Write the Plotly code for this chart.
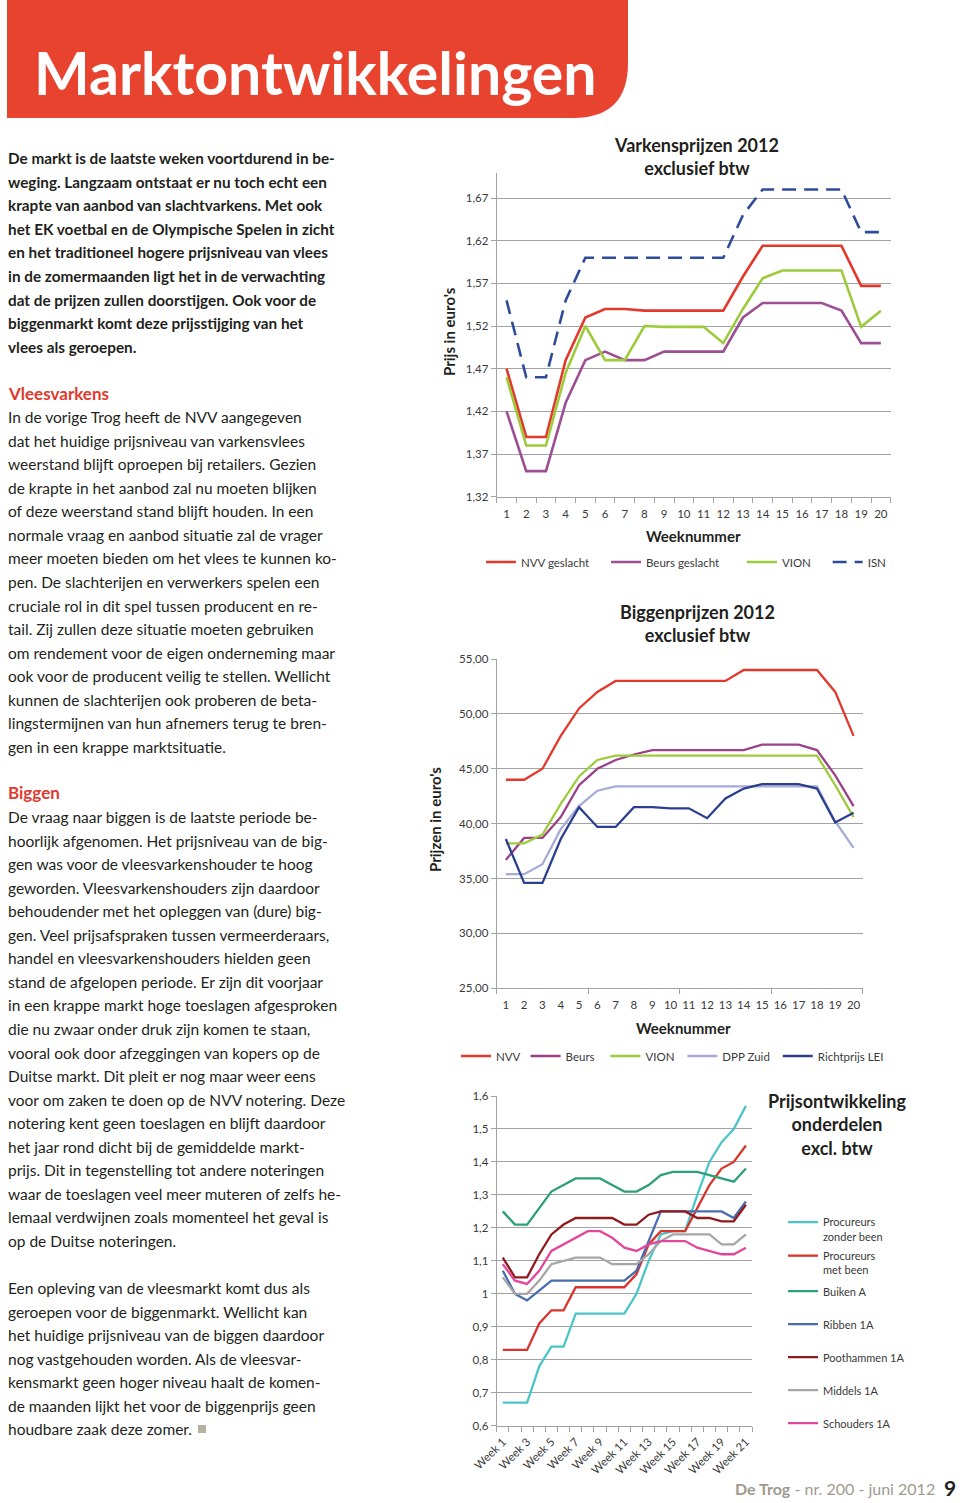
import plotly.graph_objects as go

W, H = 960, 1503
def X(px): return px / W
def Y(py): return 1 - py / H

# ---------------- data ----------------
weeks = list(range(1, 21))
nvv_geslacht = [1.47, 1.39, 1.39, 1.48, 1.53, 1.54, 1.54, 1.538, 1.538, 1.538, 1.538, 1.538, 1.578, 1.614, 1.614, 1.614, 1.614, 1.614, 1.567, 1.567]
beurs_geslacht = [1.42, 1.35, 1.35, 1.43, 1.48, 1.49, 1.48, 1.48, 1.49, 1.49, 1.49, 1.49, 1.53, 1.547, 1.547, 1.547, 1.547, 1.538, 1.50, 1.50]
vion_vark = [1.46, 1.38, 1.38, 1.465, 1.52, 1.48, 1.48, 1.52, 1.519, 1.519, 1.519, 1.50, 1.54, 1.576, 1.585, 1.585, 1.585, 1.585, 1.519, 1.538]
isn = [1.55, 1.46, 1.46, 1.55, 1.60, 1.60, 1.60, 1.60, 1.60, 1.60, 1.60, 1.60, 1.65, 1.68, 1.68, 1.68, 1.68, 1.68, 1.63, 1.63]
vark_ticks = [1.32, 1.37, 1.42, 1.47, 1.52, 1.57, 1.62, 1.67]

nvv_big = [44.0, 44.0, 45.0, 48.0, 50.5, 52.0, 53.0, 53.0, 53.0, 53.0, 53.0, 53.0, 53.0, 54.0, 54.0, 54.0, 54.0, 54.0, 52.0, 48.0]
beurs_big = [36.7, 38.7, 38.7, 40.6, 43.5, 45.0, 45.8, 46.3, 46.7, 46.7, 46.7, 46.7, 46.7, 46.7, 47.2, 47.2, 47.2, 46.7, 44.4, 41.6]
vion_big = [38.2, 38.2, 39.0, 41.8, 44.3, 45.8, 46.2, 46.2, 46.2, 46.2, 46.2, 46.2, 46.2, 46.2, 46.2, 46.2, 46.2, 46.2, 43.5, 40.6]
dpp_zuid = [35.4, 35.4, 36.3, 39.5, 41.6, 43.0, 43.4, 43.4, 43.4, 43.4, 43.4, 43.4, 43.4, 43.4, 43.4, 43.4, 43.4, 43.4, 40.2, 37.8]
richtprijs_lei = [38.6, 34.6, 34.6, 38.6, 41.5, 39.7, 39.7, 41.5, 41.5, 41.4, 41.4, 40.5, 42.3, 43.2, 43.6, 43.6, 43.6, 43.2, 40.1, 41.0]
big_ticks = [25, 30, 35, 40, 45, 50, 55]

weeks3 = list(range(1, 22))
week_labels = ["Week %d" % w for w in weeks3]
proc_zonder = [0.67, 0.67, 0.67, 0.78, 0.84, 0.84, 0.94, 0.94, 0.94, 0.94, 0.94, 1.00, 1.10, 1.18, 1.19, 1.19, 1.30, 1.40, 1.46, 1.50, 1.57]
proc_met = [0.83, 0.83, 0.83, 0.91, 0.95, 0.95, 1.02, 1.02, 1.02, 1.02, 1.02, 1.06, 1.15, 1.19, 1.19, 1.19, 1.26, 1.33, 1.38, 1.40, 1.45]
buiken = [1.25, 1.21, 1.21, 1.26, 1.31, 1.33, 1.35, 1.35, 1.35, 1.33, 1.31, 1.31, 1.33, 1.36, 1.37, 1.37, 1.37, 1.36, 1.35, 1.34, 1.38]
ribben = [1.07, 1.00, 0.98, 1.01, 1.04, 1.04, 1.04, 1.04, 1.04, 1.04, 1.04, 1.07, 1.16, 1.25, 1.25, 1.25, 1.25, 1.25, 1.25, 1.23, 1.28]
poothammen = [1.11, 1.05, 1.05, 1.12, 1.18, 1.21, 1.23, 1.23, 1.23, 1.23, 1.21, 1.21, 1.24, 1.25, 1.25, 1.25, 1.23, 1.23, 1.22, 1.22, 1.27]
middels = [1.05, 1.00, 1.00, 1.04, 1.09, 1.10, 1.11, 1.11, 1.11, 1.09, 1.09, 1.09, 1.12, 1.16, 1.18, 1.18, 1.18, 1.18, 1.15, 1.15, 1.18]
schouders = [1.09, 1.04, 1.03, 1.07, 1.13, 1.15, 1.17, 1.19, 1.19, 1.17, 1.14, 1.13, 1.15, 1.16, 1.16, 1.16, 1.14, 1.13, 1.12, 1.12, 1.14]
ond_ticks = [0.6, 0.7, 0.8, 0.9, 1.0, 1.1, 1.2, 1.3, 1.4, 1.5, 1.6]

intro_lines = [
    "De markt is de laatste weken voortdurend in be-",
    "weging. Langzaam ontstaat er nu toch echt een",
    "krapte van aanbod van slachtvarkens. Met ook",
    "het EK voetbal en de Olympische Spelen in zicht",
    "en het traditioneel hogere prijsniveau van vlees",
    "in de zomermaanden ligt het in de verwachting",
    "dat de prijzen zullen doorstijgen. Ook voor de",
    "biggenmarkt komt deze prijsstijging van het",
    "vlees als geroepen."]
vlees_lines = [
    "In de vorige Trog heeft de NVV aangegeven",
    "dat het huidige prijsniveau van varkensvlees",
    "weerstand blijft oproepen bij retailers. Gezien",
    "de krapte in het aanbod zal nu moeten blijken",
    "of deze weerstand stand blijft houden. In een",
    "normale vraag en aanbod situatie zal de vrager",
    "meer moeten bieden om het vlees te kunnen ko-",
    "pen. De slachterijen en verwerkers spelen een",
    "cruciale rol in dit spel tussen producent en re-",
    "tail. Zij zullen deze situatie moeten gebruiken",
    "om rendement voor de eigen onderneming maar",
    "ook voor de producent veilig te stellen. Wellicht",
    "kunnen de slachterijen ook proberen de beta-",
    "lingstermijnen van hun afnemers terug te bren-",
    "gen in een krappe marktsituatie."]
biggen_lines = [
    "De vraag naar biggen is de laatste periode be-",
    "hoorlijk afgenomen. Het prijsniveau van de big-",
    "gen was voor de vleesvarkenshouder te hoog",
    "geworden. Vleesvarkenshouders zijn daardoor",
    "behoudender met het opleggen van (dure) big-",
    "gen. Veel prijsafspraken tussen vermeerderaars,",
    "handel en vleesvarkenshouders hielden geen",
    "stand de afgelopen periode. Er zijn dit voorjaar",
    "in een krappe markt hoge toeslagen afgesproken",
    "die nu zwaar onder druk zijn komen te staan,",
    "vooral ook door afzeggingen van kopers op de",
    "Duitse markt. Dit pleit er nog maar weer eens",
    "voor om zaken te doen op de NVV notering. Deze",
    "notering kent geen toeslagen en blijft daardoor",
    "het jaar rond dicht bij de gemiddelde markt-",
    "prijs. Dit in tegenstelling tot andere noteringen",
    "waar de toeslagen veel meer muteren of zelfs he-",
    "lemaal verdwijnen zoals momenteel het geval is",
    "op de Duitse noteringen."]
slot_lines = [
    "Een opleving van de vleesmarkt komt dus als",
    "geroepen voor de biggenmarkt. Wellicht kan",
    "het huidige prijsniveau van de biggen daardoor",
    "nog vastgehouden worden. Als de vleesvar-",
    "kensmarkt geen hoger niveau haalt de komen-",
    "de maanden lijkt het voor de biggenprijs geen",
    "houdbare zaak deze zomer."]

def comma(v, d):
    return ("%.*f" % (d, v)).replace(".", ",")

FONT = "Lato"
GRID = "#a3a3a3"
TXT = "#3a3a3a"
NB = "\u00a0"

fig = go.Figure()

# ---- chart 1 traces ----
c1 = [("NVV geslacht" + NB * 4, nvv_geslacht, "#e3392c", "solid"),
      ("Beurs geslacht" + NB * 6, beurs_geslacht, "#9c4f93", "solid"),
      ("VION" + NB * 4, vion_vark, "#9dcb3c", "solid"),
      ("ISN", isn, "#2f4b9b", "14px,8px")]
for name, vals, col, dash in c1:
    fig.add_trace(go.Scatter(x=weeks, y=vals, mode="lines", name=name,
                             line=dict(color=col, width=2.6, dash=dash),
                             xaxis="x", yaxis="y", legend="legend"))

# ---- chart 2 traces ----
c2 = [("NVV", nvv_big, "#e3392c"), ("Beurs" + NB * 2, beurs_big, "#9a4189"),
      ("VION" + NB, vion_big, "#9dcb3c"), ("DPP Zuid" + NB, dpp_zuid, "#a6abd8"),
      ("Richtprijs LEI", richtprijs_lei, "#2b3f90")]
for name, vals, col in c2:
    fig.add_trace(go.Scatter(x=weeks, y=vals, mode="lines", name=name,
                             line=dict(color=col, width=2.3),
                             xaxis="x2", yaxis="y2", legend="legend2"))

# ---- chart 3 traces ----
c3 = [("Procureurs<br>zonder been", proc_zonder, "#4cc5c8", 1229.5),
      ("Procureurs<br>met been", proc_met, "#d9352c", 1263),
      ("Buiken A", buiken, "#2d9f7b", 1292),
      ("Ribben 1A", ribben, "#4a6db0", 1325),
      ("Poothammen 1A", poothammen, "#8e1b1e", 1358),
      ("Middels 1A", middels, "#a6a6a6", 1391),
      ("Schouders 1A", schouders, "#e2479b", 1424)]
legend_layouts = {}
for i, (name, vals, col, ly) in enumerate(c3):
    lg = "legend%d" % (i + 3)
    fig.add_trace(go.Scatter(x=weeks3, y=vals, mode="lines", name=name,
                             line=dict(color=col, width=2.3),
                             xaxis="x3", yaxis="y3", legend=lg))
    legend_layouts[lg] = dict(x=X(783), y=Y(ly), xanchor="left", yanchor="middle",
                              xref="container", yref="container",
                              bgcolor="rgba(0,0,0,0)", valign="top",
                              font=dict(family=FONT, size=11, color=TXT))

axis_common = dict(showline=True, linecolor=GRID, linewidth=1, zeroline=False, automargin=False,
                   tickfont=dict(family=FONT, size=11.5, color=TXT), fixedrange=True)

layout = dict(
    width=W, height=H, margin=dict(l=0, r=0, t=0, b=0, pad=0, autoexpand=False),
    paper_bgcolor="white", plot_bgcolor="rgba(0,0,0,0)",
    showlegend=True, font=dict(family=FONT, color=TXT),
    xaxis=dict(domain=[X(496.7), X(890.7)], range=[0.5, 20.5], anchor="y",
               tickmode="array", tickvals=weeks, ticks="", showgrid=False,
               ticklabelstandoff=6,
               minor=dict(ticks="outside", dtick=1, tick0=0.5, ticklen=5, tickcolor=GRID, showgrid=False),
               **axis_common),
    yaxis=dict(domain=[Y(496.7), Y(173)], range=[1.32, 1.6993], anchor="x",
               tickmode="array", tickvals=vark_ticks, ticktext=[comma(v, 2) for v in vark_ticks],
               ticks="outside", ticklen=5, tickcolor=GRID, showgrid=True, gridcolor=GRID, gridwidth=1,
               **axis_common),
    xaxis2=dict(domain=[X(496.7), X(862.7)], range=[0.5, 20.5], anchor="y2",
                tickmode="array", tickvals=weeks, ticks="", showgrid=False,
                ticklabelstandoff=6,
                minor=dict(ticks="outside", dtick=5, tick0=0.5, ticklen=5, tickcolor=GRID, showgrid=False),
                **axis_common),
    yaxis2=dict(domain=[Y(988.3), Y(659)], range=[25, 55], anchor="x2",
                tickmode="array", tickvals=big_ticks, ticktext=[comma(v, 2) for v in big_ticks],
                ticks="outside", ticklen=5, tickcolor=GRID, showgrid=True, gridcolor=GRID, gridwidth=1,
                **axis_common),
    xaxis3=dict(domain=[X(496.7), X(752)], range=[0.5, 21.5], anchor="y3",
                tickmode="array", tickvals=weeks3[::2], ticktext=week_labels[::2], ticks="",
                tickangle=-45, showgrid=False, ticklabelstandoff=4,
                minor=dict(ticks="outside", dtick=1, tick0=0.5, ticklen=5, tickcolor=GRID, showgrid=False),
                **axis_common),
    yaxis3=dict(domain=[Y(1425.7), Y(1096)], range=[0.6, 1.6], anchor="x3",
                tickmode="array", tickvals=ond_ticks,
                ticktext=[("1" if abs(v - 1) < 1e-9 else comma(v, 1)) for v in ond_ticks],
                ticks="outside", ticklen=5, tickcolor=GRID, showgrid=True, gridcolor=GRID, gridwidth=1,
                **axis_common),
    legend=dict(orientation="h", x=X(481), y=Y(562), xanchor="left", yanchor="middle",
                xref="container", yref="container",
                bgcolor="rgba(0,0,0,0)", font=dict(family=FONT, size=11.5, color=TXT)),
    legend2=dict(orientation="h", x=X(456), y=Y(1056), xanchor="left", yanchor="middle",
                 xref="container", yref="container",
                 bgcolor="rgba(0,0,0,0)", font=dict(family=FONT, size=11.5, color=TXT)),
)
layout.update(legend_layouts)
fig.update_layout(**layout)

# ---- header banner ----
RED = "#e8432f"
r = 55
path = "M %f,%f L %f,%f L %f,%f Q %f,%f %f,%f L %f,%f Z" % (
    X(7), Y(0), X(628), Y(0), X(628), Y(118 - r),
    X(628), Y(118), X(628 - r), Y(118), X(7), Y(118))
fig.add_shape(type="path", path=path, xref="paper", yref="paper",
              fillcolor=RED, line=dict(width=0), layer="below")

ann = []
ann.append(dict(text="<b>Marktontwikkelingen</b>", x=X(32), y=Y(73), xanchor="left", yanchor="middle",
                font=dict(family=FONT, size=59, color="white")))

def add_lines(lines, y0, bold=False, step=23.55):
    for i, t in enumerate(lines):
        ann.append(dict(text=("<b>%s</b>" % t) if bold else t, x=X(6), y=Y(y0 + i * step),
                        xanchor="left", yanchor="middle",
                        font=dict(family=FONT, size=15.3 if bold else 15.5, color="#231f20")))

add_lines(intro_lines, 158, bold=True, step=23.6)
ann.append(dict(text="<b>Vleesvarkens</b>", x=X(6), y=Y(393), xanchor="left", yanchor="middle",
                font=dict(family=FONT, size=17, color="#e03a2d")))
add_lines(vlees_lines, 417, step=23.57)
ann.append(dict(text="<b>Biggen</b>", x=X(6), y=Y(793), xanchor="left", yanchor="middle",
                font=dict(family=FONT, size=17, color="#e03a2d")))
add_lines(biggen_lines, 817, step=23.55)
add_lines(slot_lines, 1288, step=23.5)
fig.add_shape(type="rect", xref="paper", yref="paper", x0=X(198), x1=X(206), y0=Y(1433), y1=Y(1425),
              fillcolor="#b5b09f", line=dict(width=0))

# chart titles & axis titles
TF = dict(family=FONT, size=18, color="#231f20")
ann.append(dict(text="<b>Varkensprijzen 2012<br>exclusief btw</b>", x=X(696), y=Y(157), xanchor="center",
                yanchor="middle", font=TF))
ann.append(dict(text="<b>Biggenprijzen 2012<br>exclusief btw</b>", x=X(697), y=Y(623), xanchor="center",
                yanchor="middle", font=TF))
ann.append(dict(text="<b>Prijsontwikkeling<br>onderdelen<br>excl. btw</b>", x=X(837), y=Y(1124),
                xanchor="center", yanchor="middle", font=TF))
AF = dict(family=FONT, size=15, color="#231f20")
ann.append(dict(text="<b>Weeknummer</b>", x=X(693), y=Y(536), xanchor="center", yanchor="middle", font=AF))
ann.append(dict(text="<b>Weeknummer</b>", x=X(683), y=Y(1028), xanchor="center", yanchor="middle", font=AF))
ann.append(dict(text="<b>Prijs in euro's</b>", x=X(449), y=Y(332), xanchor="center", yanchor="middle",
                textangle=-90, font=AF))
ann.append(dict(text="<b>Prijzen in euro's</b>", x=X(435), y=Y(820), xanchor="center", yanchor="middle",
                textangle=-90, font=AF))

# footer
ann.append(dict(text="<b>De Trog</b> - nr. 200 - juni 2012", x=X(937), y=Y(1488), xanchor="right",
                yanchor="middle", font=dict(family=FONT, size=16, color="#a09a8e")))
ann.append(dict(text="<b>9</b>", x=X(958), y=Y(1487), xanchor="right", yanchor="middle",
                font=dict(family=FONT, size=21, color="#231f20")))

for a in ann:
    a.update(xref="paper", yref="paper", showarrow=False)
fig.update_layout(annotations=ann)

fig.write_html("out.html", config={"displayModeBar": False},
               post_script="document.body.style.margin='0';document.body.style.overflow='hidden';")
